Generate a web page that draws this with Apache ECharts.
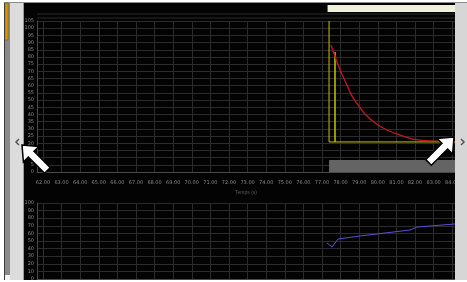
<!DOCTYPE html>
<html><head><meta charset="utf-8">
<script src="https://cdn.jsdelivr.net/npm/echarts@6/dist/echarts.min.js"></script>
<style>html,body{margin:0;padding:0;background:#fff}#c{width:467px;height:282px}</style></head>
<body><div id="c"></div><script>
// tick labels (x axis, shared)
const xTicks = [62,63,64,65,66,67,68,69,70,71,72,73,74,75,76,77,78,79,80,81,82,83,84];
const xMin = 61.68, xMax = 84.15;
// top panel
const topYMax = 105, topYStep = 5;
const redX = [77.48,77.75,78.02,78.29,78.61,78.94,79.31,79.85,80.49,81.19,81.89,82.81,84.15];
const redY = [88.3,78.6,69.5,61.9,52.9,46.6,40.3,34.1,29.2,25.7,22.9,21.6,20.9];
const yellowX = [77.38,77.38,77.70,77.70,77.70,84.15];
const yellowY = [105,20.9,20.9,83.4,20.9,20.9];
const shadeX = [77.38,84.15];
const shadeY = [0,8.3];
const capX = [77.3,84.15];
// bottom panel
const botYMax = 100, botYStep = 10;
const blueX = [77.27,77.54,77.86,79.04,80.82,81.73,82.11,82.81,84.15];
const blueY = [47.4,42.0,52.6,56.6,61.8,64.5,68.4,69.7,72.4];

const chart = echarts.init(document.getElementById('c'), null, {renderer:'canvas'});
const zip = (a,b)=>a.map((v,i)=>[v,b[i]]);
const gridLine = {show:true, lineStyle:{color:'#2c2c2c', width:1}};
const lbl = {color:'#8a8a8a', fontSize:5, fontFamily:'DejaVu Sans'};
const xCommon = {type:'value', min:xMin, max:xMax,
  axisTick:{show:false, customValues:xTicks},
  splitLine:gridLine,
  axisLine:{show:true, lineStyle:{color:'#4a4a4a'}}};
chart.setOption({
  backgroundColor:'#ffffff',
  animation:false,
  grid:[{left:37,right:12,top:21,height:151},{left:37,right:12,top:203,height:76}],
  xAxis:[
    Object.assign({gridIndex:0, axisLabel:Object.assign({customValues:xTicks, margin:8, formatter:v=>v.toFixed(2)}, lbl),
      name:'Temps (s)', nameLocation:'middle', nameGap:16, nameTextStyle:{color:'#5a5a5a', fontSize:5}}, xCommon),
    Object.assign({gridIndex:1, axisLabel:{show:false}}, xCommon)
  ],
  yAxis:[
    {type:'value', gridIndex:0, min:0, max:topYMax, interval:topYStep, axisLabel:Object.assign({margin:3}, lbl),
      splitLine:gridLine, axisLine:{show:true, lineStyle:{color:'#4a4a4a'}}, axisTick:{show:false}},
    {type:'value', gridIndex:1, min:0, max:botYMax, interval:botYStep, axisLabel:Object.assign({margin:3}, lbl),
      splitLine:gridLine, axisLine:{show:true, lineStyle:{color:'#4a4a4a'}}, axisTick:{show:false}}
  ],
  series:[
    {type:'line', xAxisIndex:0, yAxisIndex:0, data:[], silent:true,
      markArea:{silent:true, itemStyle:{color:'#646464'}, data:[[{coord:[shadeX[0],shadeY[0]]},{coord:[shadeX[1],shadeY[1]]}]]}},
    {type:'line', xAxisIndex:0, yAxisIndex:0, data:zip(yellowX,yellowY), showSymbol:false,
      lineStyle:{color:'#c9c400', width:1}},
    {type:'line', xAxisIndex:0, yAxisIndex:0, data:zip(redX,redY), showSymbol:false, smooth:0.35,
      lineStyle:{width:1.3, color:new echarts.graphic.LinearGradient(0,0,1,0,[{offset:0,color:'#c8102e'},{offset:0.75,color:'#c01a1a'},{offset:1,color:'#e06010'}])}},
    {type:'line', xAxisIndex:1, yAxisIndex:1, data:zip(blueX,blueY), showSymbol:false,
      lineStyle:{color:'#5b4fd0', width:1}}
  ]
});
const cx0 = chart.convertToPixel({xAxisIndex:0}, capX[0]);
const cx1 = chart.convertToPixel({xAxisIndex:0}, capX[1]);
function arrow(x,y,rot){
  return {type:'polygon', x:x, y:y, rotation:rot, z:100,
    shape:{points:[[0,0],[13,-11],[13,-4],[36,-4],[36,4],[13,4],[13,11]]},
    style:{fill:'#ffffff', stroke:'#000', lineWidth:1.5}};
}
chart.setOption({graphic:[
  {type:'rect', z:-10, shape:{x:24,y:3,width:431,height:277}, style:{fill:'#030303'}},
  {type:'rect', z:50, shape:{x:4,y:2,width:463,height:1}, style:{fill:'#8c8c8c'}},
  {type:'rect', z:50, shape:{x:4,y:3,width:6,height:277}, style:{fill:'#8a8a8a'}},
  {type:'rect', z:50, shape:{x:4,y:3,width:1,height:277}, style:{fill:'#3a3a3a'}},
  {type:'rect', z:51, shape:{x:5,y:3,width:3,height:37}, style:{fill:'#e39a00', stroke:'#6a4a00', lineWidth:0.5}},
  {type:'rect', z:50, shape:{x:10,y:3,width:14,height:277}, style:{fill:'#dcdcdc'}},
  {type:'rect', z:50, shape:{x:23,y:3,width:1,height:277}, style:{fill:'#9a9a9a'}},
  {type:'rect', z:50, shape:{x:455,y:3,width:12,height:277}, style:{fill:'#d6d6d6'}},
  {type:'rect', z:52, shape:{x:5,y:275,width:5,height:5}, style:{fill:'#f4f4f4'}},
  {type:'rect', z:40, shape:{x:cx0,y:5,width:cx1-cx0,height:7}, style:{fill:'#f1f0d8'}},
  {type:'line', z:40, shape:{x1:37,y1:14,x2:455,y2:14}, style:{stroke:'#2a2a2a', lineWidth:1}},
  {type:'line', z:40, shape:{x1:37,y1:18,x2:455,y2:18}, style:{stroke:'#2a2a2a', lineWidth:1}},
  {type:'polyline', z:60, shape:{points:[[19,139],[16,142],[19,145]]}, style:{stroke:'#555', lineWidth:1.5, fill:null}},
  {type:'polyline', z:60, shape:{points:[[461,139],[464,142],[461,145]]}, style:{stroke:'#555', lineWidth:1.5, fill:null}},
  arrow(22,145,-Math.PI/4),
  arrow(454,137,-3*Math.PI/4)
]});
</script></body></html>
